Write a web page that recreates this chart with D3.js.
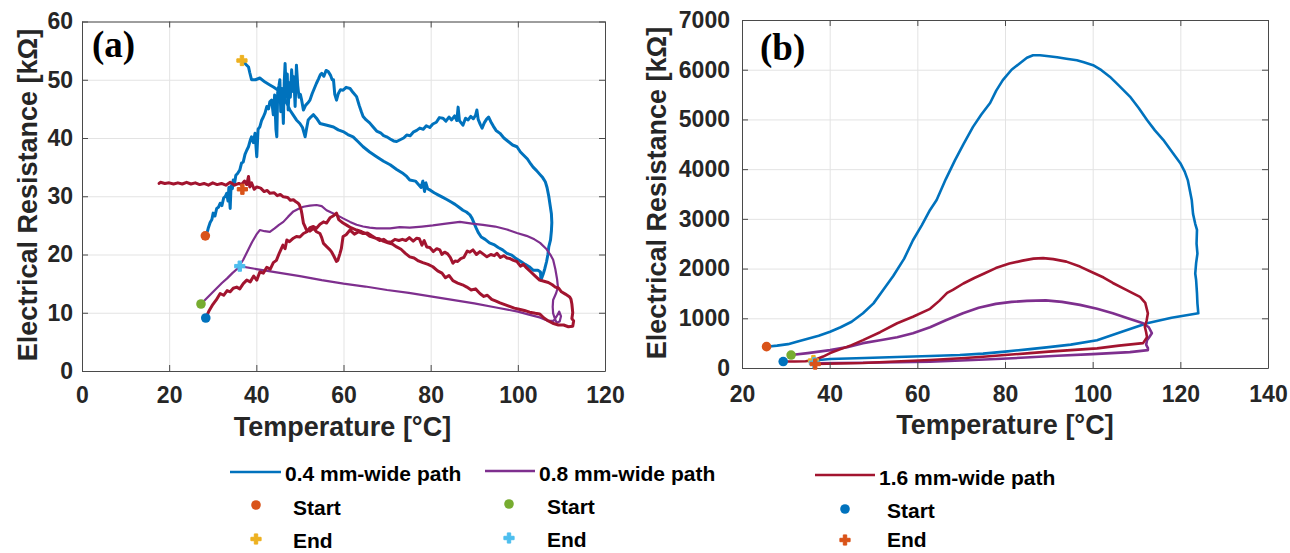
<!DOCTYPE html>
<html>
<head>
<meta charset="utf-8">
<script src="https://cdn.jsdelivr.net/npm/d3@7"></script>
<style>
  body { margin: 0; background: #fff; }
  svg { display: block; }
</style>
</head>
<body>
<div id="chart"></div>
<script>
// ---- data (temperature °C, resistance kΩ) ----
const aXTicks = [0, 20, 40, 60, 80, 100, 120];
const aYTicks = [0, 10, 20, 30, 40, 50, 60];
const bXTicks = [20, 40, 60, 80, 100, 120, 140];
const bYTicks = [0, 1000, 2000, 3000, 4000, 5000, 6000, 7000];

const seriesNames = ["0.4 mm-wide path", "0.8 mm-wide path", "1.6 mm-wide path"];

// panel (a)
const a04 = [
  [28.8,24.0],[29.0,24.6],[29.4,25.5],[29.8,26.0],[30.1,27.1],[30.5,26.6],[30.9,27.9],[31.3,28.1],[31.7,28.8],[32.1,28.4],
  [32.5,29.7],[32.9,30.0],[33.2,30.5],[33.5,29.2],[33.7,31.5],[34.0,27.9],[34.2,31.8],[34.5,31.3],[34.7,32.8],[35.0,32.2],
  [35.3,33.6],[35.7,33.9],[36.2,34.5],[36.6,35.7],[37.0,35.9],[37.4,37.2],[37.8,37.9],[38.2,38.5],[38.6,39.6],[38.9,40.2],
  [39.3,39.2],[39.7,40.8],[40.1,36.8],[40.4,41.5],[40.8,41.9],[41.2,43.0],[41.6,43.6],[42.0,44.3],[42.4,45.4],[42.8,45.0],
  [43.1,46.2],[43.5,46.5],[43.9,44.0],[44.2,47.4],[44.5,41.5],[44.7,40.2],[44.9,47.8],[45.2,49.0],[45.4,50.0],[45.6,44.5],
  [45.9,48.5],[46.2,42.5],[46.4,49.5],[46.6,52.8],[46.9,47.0],[47.1,51.0],[47.3,44.8],[47.6,49.5],[47.8,47.0],[48.1,51.7],
  [48.4,48.0],[48.6,50.5],[48.9,45.4],[49.1,50.0],[49.2,52.5],[49.5,49.0],[49.8,47.0],[50.1,47.5],[50.4,46.5],[50.8,44.8],
  [51.3,45.6],[51.8,46.0],[52.3,46.5],[52.8,47.6],[53.3,48.5],[53.8,49.4],[54.3,50.2],[54.7,50.9],[55.0,51.1],[55.5,50.6],
  [56.0,51.6],[56.5,51.4],[57.0,50.8],[57.4,50.0],[57.7,50.0],[58.0,47.5],[58.4,46.5],[58.8,47.6],[59.3,48.3],[59.9,48.2],
  [60.6,48.7],[61.5,48.5],[62.2,47.8],[63.0,47.1],[63.6,45.6],[64.1,44.5],[64.5,43.7],[65.2,43.1],[66.0,42.6],[66.8,41.9],
  [67.6,41.2],[68.5,40.9],[69.2,40.4],[69.9,40.2],[70.8,39.8],[71.5,39.5],[72.2,39.4],[73.0,39.7],[73.8,40.0],[74.5,40.5],
  [75.3,40.4],[76.0,41.0],[76.8,41.3],[77.5,41.7],[78.3,41.5],[79.0,42.1],[79.8,41.8],[80.5,42.4],[81.3,42.7],[82.0,43.5],
  [82.8,43.4],[83.5,42.9],[84.2,43.6],[84.8,43.1],[85.5,43.8],[86.0,43.0],[86.3,45.3],[86.6,43.0],[87.0,42.6],[87.4,42.2],
  [88.0,43.4],[88.6,43.1],[89.2,43.7],[89.8,43.3],[90.3,43.9],[90.6,44.8],[90.9,43.2],[91.4,42.3],[91.8,41.7],[92.3,42.6],
  [92.8,43.2],[93.3,43.6],[93.8,42.8],[94.4,42.0],[95.0,41.3],[95.9,40.8],[96.8,40.0],[97.8,39.4],[98.8,38.8],[99.8,38.5],
  [100.6,37.6],[101.4,37.0],[102.2,36.4],[103.0,35.5],[103.5,35.0],[104.3,34.4],[105.0,33.8],[105.7,33.2],[106.3,32.5],[106.7,31.5],
  [107.1,30.0],[107.4,28.5],[107.7,27.0],[107.8,25.5],[107.7,24.0],[107.5,22.5],[107.1,21.3],[106.9,20.0],[106.6,18.8],[106.2,17.6],
  [105.8,16.6],[105.4,15.8],[105.3,15.6],[105.2,17.0],[104.6,17.3],[103.5,17.3],[102.6,17.9],[101.7,18.3],[100.7,18.8],[99.6,19.3],
  [98.6,19.9],[97.5,20.2],[96.5,20.8],[95.5,21.2],[94.5,21.7],[93.5,22.0],[92.5,22.6],[91.6,23.0],[90.9,23.8],[90.4,24.6],
  [90.0,25.3],[89.5,26.2],[89.0,26.8],[88.2,27.3],[87.4,27.6],[86.5,28.1],[85.6,28.6],[84.7,29.0],[83.8,29.4],[82.8,29.8],
  [81.8,30.2],[80.8,30.6],[80.0,31.0],[79.3,31.3],[78.9,32.3],[78.6,30.8],[78.2,32.6],[77.8,31.5],[77.2,32.0],[76.5,32.6],
  [75.2,32.8],[74.5,33.4],[73.7,33.9],[72.2,34.6],[70.7,35.4],[69.2,36.0],[67.6,36.8],[66.0,37.6],[64.5,38.5],[63.3,39.4],
  [62.2,40.2],[61.0,40.6],[59.9,41.1],[58.8,41.4],[57.7,41.9],[56.2,42.2],[54.6,42.5],[53.8,43.4],[53.1,44.0],[52.5,43.6],
  [51.9,43.1],[51.5,41.5],[51.2,40.2],[50.6,41.8],[50.0,42.5],[49.2,43.1],[48.4,44.0],[47.7,44.8],[47.0,46.0],[46.1,47.1],
  [45.5,47.8],[45.0,48.2],[44.0,48.7],[43.1,49.1],[42.0,49.6],[40.8,50.3],[39.8,50.0],[38.9,50.0],[38.5,51.2],[38.2,52.2],
  [37.4,52.8],[36.8,53.3]
];
const a08 = [
  [27.3,11.5],[28.5,12.4],[29.7,13.3],[30.9,14.2],[32.1,15.1],[33.3,15.9],[34.5,16.8],[35.7,17.6],[37.0,19.1],[38.0,20.6],
  [39.0,22.1],[40.0,23.4],[40.8,24.2],[41.9,24.0],[43.1,23.9],[44.2,24.5],[45.2,25.1],[46.2,25.6],[47.3,26.5],[48.5,27.4],
  [49.6,27.8],[50.8,28.2],[52.3,28.4],[53.8,28.5],[55.0,28.3],[56.1,27.6],[57.2,27.2],[58.4,26.8],[59.9,26.2],[61.5,25.6],
  [63.0,25.1],[64.5,24.8],[66.0,24.6],[67.6,24.5],[70.7,24.5],[72.9,24.7],[75.2,24.6],[78.0,24.8],[80.5,25.0],[83.5,25.3],
  [86.7,25.6],[89.5,25.3],[92.0,25.1],[94.8,24.8],[97.5,24.3],[99.8,23.7],[102.0,23.2],[103.8,22.6],[105.1,22.0],[106.5,21.0],
  [107.6,19.8],[108.1,19.1],[108.6,17.5],[109.0,15.8],[109.2,14.4],[108.8,13.4],[108.1,12.2],[108.0,11.0],[108.1,9.9],[108.5,9.0],
  [108.9,8.3],[109.6,8.5],[109.9,9.4],[109.5,10.2],[109.0,9.5],[108.2,8.6],[107.0,8.6],[105.0,9.2],[103.0,9.6],[100.0,10.2],
  [95.0,10.9],[90.0,11.6],[85.0,12.2],[80.0,12.8],[75.0,13.4],[70.0,13.9],[65.0,14.5],[60.0,15.0],[55.0,15.6],[50.0,16.3],
  [45.0,16.9],[40.0,17.5],[36.2,18.0]
];
const a16 = [
  [28.4,9.1],[29.2,10.4],[30.0,11.4],[30.8,12.2],[31.7,13.3],[32.5,13.0],[33.3,13.8],[34.0,13.6],[34.7,14.2],[35.5,14.4],
  [36.2,14.1],[37.0,15.0],[37.8,15.6],[38.6,15.3],[39.4,16.3],[40.1,15.6],[40.8,17.0],[41.6,16.8],[42.4,17.8],[43.2,17.5],
  [43.9,18.6],[44.6,19.0],[45.3,20.3],[46.1,21.6],[46.6,21.0],[47.0,22.5],[47.6,22.2],[48.5,22.8],[49.2,23.1],[50.0,23.0],
  [50.8,23.6],[51.6,23.9],[52.3,24.6],[53.1,24.8],[53.8,24.5],[54.6,25.2],[55.4,25.6],[56.1,25.4],[56.9,26.3],[57.6,26.6],
  [58.4,27.1],[58.9,26.0],[59.4,25.7],[59.9,25.4],[60.8,25.0],[61.7,24.6],[63.0,24.2],[64.2,23.9],[65.2,23.6],[66.1,23.1],
  [67.3,22.8],[68.2,22.7],[69.1,22.3],[70.2,22.0],[71.2,21.8],[72.2,21.3],[73.2,20.9],[74.2,20.2],[75.2,19.6],[76.2,19.4],
  [77.2,18.9],[78.2,18.6],[79.4,18.3],[80.5,17.9],[81.6,17.2],[82.6,16.8],[83.4,16.0],[84.2,16.4],[85.1,15.5],[86.2,15.1],
  [87.3,14.8],[88.3,14.4],[89.3,13.9],[90.3,14.1],[91.3,13.3],[92.2,12.8],[93.0,13.0],[94.0,12.3],[95.0,12.0],[95.9,11.7],
  [97.0,11.4],[98.1,11.1],[99.2,10.8],[100.3,10.6],[101.5,10.4],[102.7,10.1],[104.0,9.9],[105.0,9.8],[106.0,9.1],[107.0,8.6],
  [108.0,8.2],[109.3,7.9],[110.5,7.9],[111.6,7.6],[112.6,7.7],[112.8,8.6],[112.4,9.0],[112.6,10.0],[112.4,11.5],[112.2,12.3],
  [111.9,12.7],[110.9,13.2],[110.0,13.6],[109.4,14.2],[108.6,14.4],[107.9,14.8],[107.0,15.2],[106.0,15.4],[105.0,15.6],[104.0,16.3],
  [103.0,17.0],[102.0,17.7],[101.3,18.3],[100.6,18.0],[99.8,18.8],[99.0,19.0],[98.2,19.3],[97.5,19.4],[96.8,19.8],[96.0,19.5],
  [95.2,20.2],[94.6,19.8],[93.8,20.0],[92.9,19.6],[92.0,20.1],[91.3,20.5],[90.5,20.0],[89.7,20.8],[89.0,20.4],[88.4,20.6],
  [87.6,19.5],[86.9,19.3],[86.2,18.8],[85.6,18.9],[85.1,18.5],[84.5,19.5],[83.9,20.1],[83.2,20.4],[82.6,20.0],[82.1,20.8],
  [81.4,21.0],[80.6,20.5],[79.8,21.2],[79.1,21.3],[78.5,22.4],[78.0,21.6],[77.4,22.7],[76.8,22.8],[76.0,22.3],[75.1,22.9],
  [74.3,22.4],[73.5,22.6],[72.7,22.4],[71.8,22.6],[70.9,22.1],[70.0,22.2],[69.2,22.6],[68.3,22.4],[67.4,22.8],[66.5,23.2],
  [65.5,23.7],[64.5,23.6],[63.5,23.9],[62.5,23.5],[61.5,24.2],[60.6,23.4],[59.9,23.1],[59.5,21.0],[59.2,20.2],[58.7,19.0],
  [58.4,18.8],[57.8,19.7],[57.3,20.4],[56.9,20.8],[56.2,21.3],[55.4,21.9],[55.0,22.9],[54.6,23.6],[53.8,23.9],[53.1,24.5],
  [52.3,24.0],[51.5,24.2],[51.1,24.9],[50.8,25.4],[50.5,26.8],[50.3,27.6],[49.9,28.5],[49.6,28.8],[49.0,29.1],[48.5,29.4],
  [47.8,29.3],[47.2,29.8],[46.2,29.9],[45.5,30.3],[44.8,30.1],[44.1,30.6],[43.1,30.5],[42.5,31.0],[41.8,30.8],[41.0,31.4],
  [40.1,31.6],[39.5,31.2],[38.9,32.3],[38.5,31.6],[38.2,33.4],[37.8,32.0],[37.3,32.6],[36.6,32.0],[36.0,32.2],[35.0,31.9],
  [34.0,32.4],[33.0,31.9],[32.0,32.2],[31.0,32.0],[30.0,32.3],[29.0,31.9],[28.0,32.2],[27.0,32.0],[26.0,32.3],[25.0,32.1],
  [24.0,32.4],[23.0,32.1],[22.0,32.3],[21.0,32.1],[20.0,32.3],[19.0,32.2],[18.0,32.4],[17.7,32.2]
];
// start / end points, panel (a)
const aStarts = [[28.3,23.2],[27.3,11.5],[28.4,9.1]];
const aEnds   = [[36.7,53.3],[36.2,18.0],[36.8,31.2]];

// panel (b)
const b04 = [
  [25.6,429],[28,450],[30.5,480],[32.5,530],[35,590],[37.5,650],[40.1,730],[42.5,820],[45,930],[47.6,1100],
  [50,1300],[52.2,1570],[54.5,1850],[57,2200],[59,2570],[61,2870],[62.9,3180],[64.4,3380],[66.5,3800],[68.6,4180],
  [70.5,4500],[72.7,4850],[74.6,5100],[76.6,5330],[78,5580],[79.5,5790],[81.5,6000],[83.4,6130],[85,6240],[86.4,6290],
  [88,6290],[90,6270],[91.9,6250],[94,6220],[96.4,6190],[98,6150],[100.1,6090],[102,5990],[103.9,5860],[106,5680],
  [108.5,5460],[110.5,5230],[112.4,4990],[114.2,4780],[116.1,4590],[118,4360],[120,4120],[121,3950],[121.7,3780],[122.6,3380],
  [122.9,3100],[123.4,2900],[123.8,2780],[123.7,2500],[123.9,2300],[123.6,2110],[123.4,1900],[123.6,1770],[123.8,1500],[123.9,1300],
  [124.1,1100],[118,1010],[112.4,900],[107,740],[101,560],[95,470],[90,420],[85.7,380],[80,330],[75,290],
  [69.7,260],[62.9,240],[55.4,220],[48,200],[40.1,180],[36.3,150]
];
const b08 = [
  [31.2,260],[35,300],[40.1,360],[44,420],[47.6,500],[51.5,560],[55.4,620],[59,700],[62.9,820],[66.5,960],
  [70.4,1100],[74,1210],[77.9,1290],[81.5,1330],[85,1350],[89.3,1360],[93,1330],[97.1,1270],[101,1190],[104.6,1100],
  [108,1000],[111.5,900],[112.8,820],[113.5,700],[112.9,620],[112.4,560],[112.2,470],[112.6,400],[112.6,360],[108.5,320],
  [100,280],[92,245],[85.7,215],[78,180],[70,150],[62.9,127],[55.4,115],[48,105],[42,100],[37.1,95]
];
const b16 = [
  [29.4,130],[32,130],[34.5,135],[36.5,160],[38.5,230],[40.1,300],[42.5,380],[45,460],[47.6,560],[51.5,720],
  [55.4,900],[59,1030],[62.9,1190],[65,1350],[66.8,1510],[68.1,1570],[70.5,1700],[73,1810],[75.5,1910],[77.9,2010],
  [81,2100],[84,2160],[86.5,2200],[88.7,2210],[91,2190],[94,2140],[97.1,2040],[100,1920],[102.5,1820],[104.6,1710],
  [107,1600],[109,1510],[110.8,1430],[112,1310],[112.6,1100],[112.3,950],[111.9,830],[112.2,720],[112.4,620],[111.5,500],
  [106,450],[101,395],[95,360],[90,330],[85.7,300],[80,260],[75,225],[70,195],[62.9,160],[55,130],
  [47.6,100],[42,90],[36.7,80]
];
const bStarts = [[25.6,429],[31.2,260],[29.4,130]];
const bEnds   = [[36.3,150],[36.5,105],[36.7,80]];

// ---- styling ----
const lineColors  = ["#0072BD", "#7E2F8E", "#A2142F"];
const startColors = ["#D95319", "#77AC30", "#0072BD"];
const endColors   = ["#EDB120", "#4DBEEE", "#D95319"];
const FONT = "'Liberation Sans', Arial, Helvetica, sans-serif";
const SERIF = "'Liberation Serif', 'Times New Roman', serif";

const svg = d3.select("#chart").append("svg")
  .attr("width", 1290).attr("height", 553);

function drawPanel(p) {
  const x = d3.scaleLinear().domain(p.xDomain).range([p.left, p.right]);
  const y = d3.scaleLinear().domain(p.yDomain).range([p.bottom, p.top]);
  const g = svg.append("g");
  const h = p.bottom - p.top, w = p.right - p.left;
  const fmt = d3.format("d");

  // grid
  g.append("g").attr("transform", `translate(0,${p.bottom})`)
    .call(d3.axisBottom(x).tickValues(p.xTicks).tickSize(-h).tickFormat(""))
    .call(s => s.select(".domain").remove())
    .call(s => s.selectAll("line").attr("stroke", "#e3e3e3").attr("stroke-width", 1));
  g.append("g").attr("transform", `translate(${p.left},0)`)
    .call(d3.axisLeft(y).tickValues(p.yTicks).tickSize(-w).tickFormat(""))
    .call(s => s.select(".domain").remove())
    .call(s => s.selectAll("line").attr("stroke", "#e3e3e3").attr("stroke-width", 1));

  // lines
  const line = d3.line().x(d => x(d[0])).y(d => y(d[1]));
  p.series.forEach((s, i) => {
    g.append("path").datum(s)
      .attr("d", line)
      .attr("fill", "none")
      .attr("stroke", lineColors[i])
      .attr("stroke-width", p.widths[i])
      .attr("stroke-linejoin", "round")
      .attr("stroke-linecap", "round");
  });

  // frame and ticks
  const axisStyle = s => {
    s.select(".domain").attr("stroke", "#4a4a4a").attr("stroke-width", 1);
    s.selectAll(".tick line").attr("stroke", "#4a4a4a");
    s.selectAll("text").attr("font-family", FONT).attr("font-weight", "bold")
      .attr("font-size", 23).attr("fill", "#262626");
  };
  g.append("g").attr("transform", `translate(0,${p.bottom})`)
    .call(d3.axisBottom(x).tickValues(p.xTicks).tickFormat(fmt)
      .tickSizeInner(-6).tickSizeOuter(0).tickPadding(p.xPad))
    .call(axisStyle);
  g.append("g").attr("transform", `translate(${p.left},0)`)
    .call(d3.axisLeft(y).tickValues(p.yTicks).tickFormat(fmt)
      .tickSizeInner(-6).tickSizeOuter(0).tickPadding(p.yPad))
    .call(axisStyle);
  g.append("g").attr("transform", `translate(0,${p.top})`)
    .call(d3.axisTop(x).tickValues(p.xTicks).tickSizeInner(-6).tickSizeOuter(0).tickFormat(""))
    .call(axisStyle);
  g.append("g").attr("transform", `translate(${p.right},0)`)
    .call(d3.axisRight(y).tickValues(p.yTicks).tickSizeInner(-6).tickSizeOuter(0).tickFormat(""))
    .call(axisStyle);

  // start / end markers
  p.starts.forEach((d, i) => {
    g.append("circle").attr("cx", x(d[0])).attr("cy", y(d[1])).attr("r", 4.8)
      .attr("fill", startColors[i]);
  });
  p.ends.forEach((d, i) => {
    g.append("path").attr("d", d3.symbol(d3.symbolCross, 58)())
      .attr("transform", `translate(${x(d[0])},${y(d[1])})`)
      .attr("fill", endColors[i]).attr("stroke", endColors[i])
      .attr("stroke-width", 1).attr("stroke-linejoin", "round");
  });

  // axis titles and panel label
  g.append("text").attr("x", (p.left + p.right) / 2 + p.xTitleDx).attr("y", p.xTitleY)
    .attr("text-anchor", "middle").attr("font-family", FONT).attr("font-weight", "bold")
    .attr("font-size", 27).attr("fill", "#262626").text("Temperature [°C]");
  g.append("text").attr("transform", `translate(${p.yTitleX},${p.yTitleY}) rotate(-90)`)
    .attr("text-anchor", "middle").attr("font-family", FONT).attr("font-weight", "bold")
    .attr("font-size", 27).attr("fill", "#262626").text("Electrical Resistance [kΩ]");
  g.append("text").attr("x", p.labelX).attr("y", p.labelY)
    .attr("font-family", SERIF).attr("font-weight", "bold")
    .attr("font-size", 37).attr("fill", "#000").text(p.label);
}

drawPanel({
  left: 82, right: 605, top: 21.5, bottom: 371,
  xDomain: [0, 120], yDomain: [0, 60], xTicks: aXTicks, yTicks: aYTicks,
  xPad: 16, yPad: 9,
  series: [a04, a08, a16], widths: [3, 2.2, 3],
  starts: aStarts, ends: aEnds,
  xTitleDx: -1, xTitleY: 436, yTitleX: 37, yTitleY: 195,
  label: "(a)", labelX: 92, labelY: 57
});
drawPanel({
  left: 742, right: 1268, top: 20, bottom: 368,
  xDomain: [20, 140], yDomain: [0, 7000], xTicks: bXTicks, yTicks: bYTicks,
  xPad: 18, yPad: 12,
  series: [b04, b08, b16], widths: [2.6, 2.6, 2.6],
  starts: bStarts, ends: bEnds,
  xTitleDx: 0, xTitleY: 434, yTitleX: 666, yTitleY: 193,
  label: "(b)", labelX: 760, labelY: 60
});

// ---- legend ----
const legendCols = [
  { lx1: 230, lx2: 281, ly: 472, tx: 285, ty: 481, mx: 256, sy: 505, ey: 539, sty: 515, ety: 548 },
  { lx1: 485, lx2: 535, ly: 471, tx: 539, ty: 481, mx: 509, sy: 504, ey: 538, sty: 514, ety: 547 },
  { lx1: 815, lx2: 875, ly: 475, tx: 879, ty: 485, mx: 845, sy: 509, ey: 540, sty: 518, ety: 547 }
];
const leg = svg.append("g").attr("font-family", FONT).attr("font-weight", "bold")
  .attr("font-size", 21).attr("fill", "#000");
seriesNames.forEach((name, i) => {
  const c = legendCols[i];
  leg.append("line").attr("x1", c.lx1).attr("x2", c.lx2).attr("y1", c.ly).attr("y2", c.ly)
    .attr("stroke", lineColors[i]).attr("stroke-width", 2.6);
  leg.append("text").attr("x", c.tx).attr("y", c.ty).text(name);
  leg.append("circle").attr("cx", c.mx).attr("cy", c.sy).attr("r", 4.8).attr("fill", startColors[i]);
  leg.append("text").attr("x", c.tx + 8).attr("y", c.sty).text("Start");
  leg.append("path").attr("d", d3.symbol(d3.symbolCross, 58)())
    .attr("transform", `translate(${c.mx},${c.ey})`)
    .attr("fill", endColors[i]).attr("stroke", endColors[i]).attr("stroke-width", 1)
    .attr("stroke-linejoin", "round");
  leg.append("text").attr("x", c.tx + 8).attr("y", c.ety).text("End");
});
</script>
</body>
</html>
